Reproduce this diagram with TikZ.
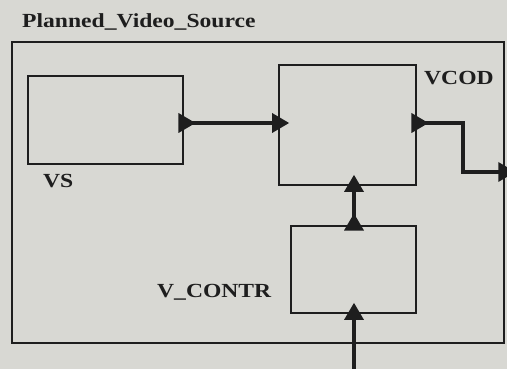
\documentclass[tikz,border=0pt]{standalone}
\usepackage{fontspec}
\usetikzlibrary{shapes.geometric}
\newfontfamily\lblfont[FakeStretch=1.18]{Liberation Serif}
\definecolor{bgc}{RGB}{216,216,211}
\definecolor{ink}{RGB}{30,30,30}
\tikzset{
  blk/.style={draw=ink, line width=2.4pt, fill=bgc},
  conn/.style={draw=ink, line width=3.2pt},
  port/.style={isosceles triangle, isosceles triangle stretches, fill=ink, draw=none,
    minimum width=20pt, minimum height=17pt, inner sep=0pt},
  lbl/.style={font=\lblfont\bfseries\fontsize{20}{22}\selectfont, text=ink, inner sep=0pt}
}
\begin{document}
\begin{tikzpicture}[x=1pt,y=-1pt]
\fill[bgc] (0,0) rectangle (507,369);
\useasboundingbox (0,0) rectangle (507,369);
% boxes
\node[lbl, anchor=base west] (title) at (22,28) {Planned\_Video\_Source};
\draw[blk] (12,42) rectangle (504,343);
\node[blk, minimum width=155pt, minimum height=88pt, inner sep=0pt] (vs) at (105.5,120) {};
\node[blk, minimum width=137pt, minimum height=120pt, inner sep=0pt] (vcod) at (347.5,125) {};
\node[blk, minimum width=125pt, minimum height=87pt, inner sep=0pt] (vcontr) at (353.5,269.5) {};
\node[lbl, anchor=base west] (vslbl) at (43,188) {VS};
\node[lbl, anchor=base west] (vcodlbl) at (424,85) {VCOD};
\node[lbl, anchor=base west] (vcontrlbl) at (157,297) {V\_CONTR};
% port coordinates
\coordinate (vsout) at (vs.east |- 0,123);
\coordinate (vcodin) at (vcod.west |- 0,123);
\coordinate (vcodout) at (vcod.east |- 0,123);
\coordinate (bendA) at (463,123);
\coordinate (bendB) at (463,172);
\coordinate (extout) at (504,172);
\coordinate (vcodbot) at (vcod.south -| 354,0);
\coordinate (vcontrtop) at (vcontr.north -| 354,0);
\coordinate (vcontrbot) at (vcontr.south -| 354,0);
\coordinate (extin) at (354,369);
% connectors
\draw[conn] (vsout) -- (vcodin);
\draw[conn] (vcodout) -- (bendA) -- (bendB) -- (extout);
\draw[conn] (vcontrtop) -- (vcodbot);
\draw[conn] (extin) -- (vcontrbot);
% port triangles
\node[port] (p1) at (vsout) {};
\node[port] (p2) at (vcodin) {};
\node[port] (p3) at (vcodout) {};
\node[port] (p4) at (extout) {};
\node[port, shape border rotate=90] (p5) at (vcodbot) {};
\node[port, shape border rotate=90] (p6) at (vcontrtop) {};
\node[port, shape border rotate=90] (p7) at (vcontrbot) {};
\end{tikzpicture}
\end{document}
